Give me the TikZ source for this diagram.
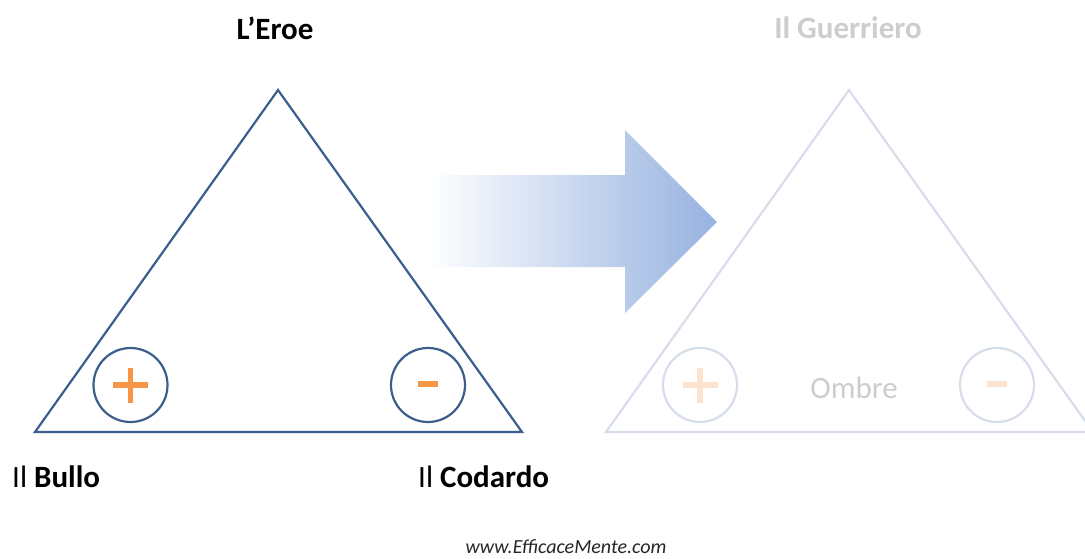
\documentclass[tikz,border=0pt]{standalone}
\usepackage{fontspec}
\setmainfont{Carlito}
\usetikzlibrary{calc}
\definecolor{dblue}{HTML}{3B5E8C}
\definecolor{pblue}{HTML}{D5DEEA}
\definecolor{orng}{HTML}{F79646}
\definecolor{porng}{HTML}{FBE3CF}
\definecolor{arrowblue}{HTML}{97B2E0}
\definecolor{pgray}{HTML}{CDCDCD}
\tikzset{
  lbl/.style={font=\fontsize{31}{34}\selectfont, inner sep=0pt},
  sign/.style={line width=5.2pt},
  ring/.style={circle, line width=2.2pt, minimum size=74pt, inner sep=0pt},
}
\begin{document}
\begin{tikzpicture}[x=1pt,y=-1pt]
\useasboundingbox (0,0) rectangle (1085,558);
% arrow
\shade[left color=white, right color=arrowblue, shading angle=90, draw=none]
  (427,175) -- (625,175) -- (625,130) -- (717,222) -- (625,313) -- (625,267) -- (427,267) -- cycle;
% left triangle
\coordinate (LA) at (278,90);
\coordinate (LB) at (35,432);
\coordinate (LC) at (522,432);
\draw[dblue, line width=2.2pt, line join=miter] (LA) -- (LB) -- (LC) -- cycle;
\node[ring, draw=dblue] (lp) at (130.5,385) {};
\node[ring, draw=dblue] (lm) at (428,385) {};
\draw[orng, sign] ($(lp)+(-17.5,0)$) -- ($(lp)+(17.5,0)$);
\draw[orng, sign] ($(lp)+(0,-17.5)$) -- ($(lp)+(0,17.5)$);
\draw[orng, line width=6.5pt] ($(lm)+(-10,-1)$) -- ($(lm)+(10,-1)$);
% right triangle
\coordinate (RA) at (849,90);
\coordinate (RB) at (606,432);
\coordinate (RC) at (1093,432);
\draw[pblue, line width=2.2pt] (RA) -- (RB) -- (RC) -- cycle;
\node[ring, draw=pblue] (rp) at (700,385) {};
\node[ring, draw=pblue] (rm) at (997,385) {};
\draw[porng, sign] ($(rp)+(-17.5,0)$) -- ($(rp)+(17.5,0)$);
\draw[porng, sign] ($(rp)+(0,-17.5)$) -- ($(rp)+(0,17.5)$);
\draw[porng, line width=6.5pt] ($(rm)+(-10,-1)$) -- ($(rm)+(10,-1)$);
\node[inner sep=0pt, text=pgray, font=\fontsize{31}{34}\selectfont] (om) at (854,388) {Ombre};
% labels
\node[lbl] (eroe) at (275,28) {\textbf{L’Eroe}};
\node[lbl, text=pgray] (guer) at (848,28) {\textbf{Il Guerriero}};
\node[lbl, anchor=west] (bullo) at (12,477) {Il \textbf{Bullo}};
\node[lbl, anchor=west] (codardo) at (418,477) {Il \textbf{Codardo}};
\node[inner sep=0pt, anchor=base, font=\fontsize{20}{22}\selectfont\itshape, text=black!85] (www) at (566,553) {www.EfficaceMente.com};
\end{tikzpicture}
\end{document}
